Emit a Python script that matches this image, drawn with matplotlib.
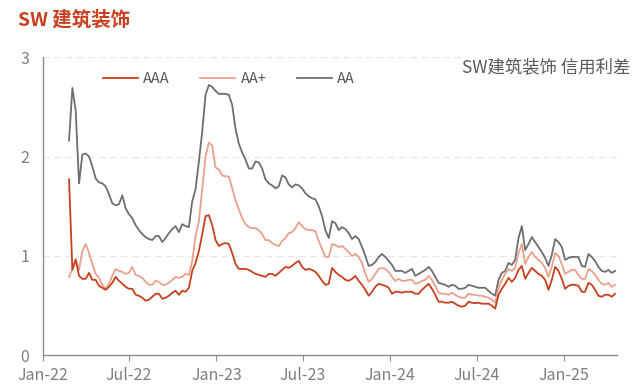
import matplotlib
matplotlib.use("Agg")
import matplotlib.pyplot as plt
import matplotlib.dates as mdates
import pandas as pd

plt.rcParams["font.family"] = ["Noto Sans CJK SC", "DejaVu Sans"]

# weekly credit spreads, SW construction & decoration
start_date = "2022-02-25"

aaa = [1.77, 0.86, 0.96, 0.80, 0.77, 0.77, 0.83, 0.76, 0.76, 0.70,
       0.68, 0.66, 0.69, 0.73, 0.79, 0.75, 0.72, 0.69, 0.67, 0.67,
       0.61, 0.60, 0.58, 0.55, 0.56, 0.59, 0.62, 0.62, 0.57, 0.58,
       0.60, 0.63, 0.65, 0.61, 0.65, 0.64, 0.68, 0.85, 0.93, 1.05,
       1.22, 1.40, 1.41, 1.31, 1.16, 1.10, 1.12, 1.13, 1.12, 1.03,
       0.92, 0.87, 0.87, 0.87, 0.86, 0.84, 0.82, 0.81, 0.80, 0.79,
       0.82, 0.82, 0.80, 0.83, 0.86, 0.89, 0.88, 0.90, 0.93, 0.95,
       0.89, 0.86, 0.87, 0.86, 0.84, 0.80, 0.75, 0.71, 0.72, 0.88,
       0.84, 0.81, 0.79, 0.76, 0.75, 0.77, 0.80, 0.75, 0.71, 0.66,
       0.60, 0.64, 0.69, 0.72, 0.71, 0.70, 0.68, 0.62, 0.64, 0.64,
       0.63, 0.64, 0.64, 0.64, 0.62, 0.62, 0.66, 0.69, 0.72, 0.67,
       0.61, 0.54, 0.54, 0.53, 0.53, 0.54, 0.52, 0.50, 0.49, 0.50,
       0.54, 0.53, 0.525, 0.53, 0.52, 0.52, 0.52, 0.50, 0.47, 0.61,
       0.67, 0.72, 0.78, 0.74, 0.78, 0.86, 0.90, 0.77, 0.83, 0.88,
       0.85, 0.82, 0.80, 0.76, 0.66, 0.76, 0.89, 0.85, 0.77, 0.67,
       0.70, 0.71, 0.71, 0.70, 0.64, 0.64, 0.73, 0.71, 0.66, 0.60,
       0.59, 0.61, 0.61, 0.59, 0.62]

aa_plus = [0.79, 0.87, 0.97, 0.86, 1.05, 1.12, 1.03, 0.92, 0.82, 0.78,
           0.71, 0.67, 0.72, 0.80, 0.87, 0.85, 0.84, 0.82, 0.83, 0.89,
           0.81, 0.80, 0.78, 0.74, 0.71, 0.71, 0.75, 0.74, 0.71, 0.71,
           0.73, 0.76, 0.79, 0.78, 0.79, 0.82, 0.81, 0.95, 1.20, 1.35,
           1.68, 2.00, 2.14, 2.11, 1.89, 1.87, 1.81, 1.80, 1.80, 1.68,
           1.56, 1.47, 1.38, 1.32, 1.29, 1.28, 1.28, 1.26, 1.22, 1.16,
           1.16, 1.13, 1.11, 1.10, 1.15, 1.18, 1.23, 1.24, 1.28, 1.34,
           1.30, 1.27, 1.26, 1.26, 1.25, 1.15, 1.07, 0.99, 0.99, 1.12,
           1.11, 1.09, 1.10, 1.07, 1.04, 1.00, 1.02, 0.99, 0.93, 0.82,
           0.74, 0.77, 0.82, 0.87, 0.88, 0.87, 0.84, 0.79, 0.75, 0.77,
           0.75, 0.75, 0.76, 0.76, 0.72, 0.73, 0.75, 0.76, 0.80, 0.76,
           0.70, 0.63, 0.62, 0.62, 0.61, 0.63, 0.61, 0.59, 0.58, 0.58,
           0.62, 0.61, 0.61, 0.60, 0.60, 0.59, 0.58, 0.56, 0.53, 0.68,
           0.76, 0.82, 0.87, 0.85, 0.88, 1.03, 1.12, 0.92, 0.99, 1.04,
           0.99, 0.96, 0.93, 0.88, 0.79, 0.89, 1.03, 1.00, 0.92, 0.82,
           0.84, 0.86, 0.86, 0.81, 0.77, 0.77, 0.87, 0.85, 0.81, 0.76,
           0.72, 0.71, 0.73, 0.69, 0.71]

aa = [2.16, 2.69, 2.46, 1.73, 2.02, 2.03, 2.00, 1.90, 1.78, 1.74,
      1.73, 1.70, 1.62, 1.53, 1.51, 1.52, 1.61, 1.48, 1.42, 1.38,
      1.31, 1.26, 1.22, 1.19, 1.17, 1.16, 1.20, 1.20, 1.14, 1.18,
      1.23, 1.27, 1.30, 1.24, 1.32, 1.30, 1.29, 1.55, 1.67, 1.95,
      2.25, 2.62, 2.72, 2.70, 2.66, 2.63, 2.63, 2.63, 2.62, 2.52,
      2.28, 2.13, 2.04, 1.97, 1.88, 1.88, 1.95, 1.94, 1.88, 1.77,
      1.73, 1.71, 1.68, 1.70, 1.81, 1.79, 1.72, 1.69, 1.72, 1.71,
      1.68, 1.63, 1.60, 1.58, 1.57, 1.50, 1.40, 1.26, 1.18, 1.35,
      1.33, 1.26, 1.29, 1.27, 1.23, 1.17, 1.20, 1.17, 1.09, 1.00,
      0.90, 0.91, 0.94, 0.99, 1.02, 0.99, 0.95, 0.91, 0.85, 0.85,
      0.85, 0.83, 0.85, 0.87, 0.80, 0.82, 0.84, 0.86, 0.89, 0.85,
      0.79, 0.73, 0.72, 0.71, 0.69, 0.71, 0.70, 0.67, 0.67, 0.68,
      0.71, 0.70, 0.69, 0.68, 0.68, 0.68, 0.65, 0.62, 0.60, 0.76,
      0.83, 0.85, 0.93, 0.91, 0.96, 1.18, 1.30, 1.06, 1.12, 1.19,
      1.14, 1.09, 1.04, 0.98, 0.90, 1.01, 1.17, 1.14, 1.09, 0.96,
      0.98, 0.99, 0.99, 0.99, 0.90, 0.89, 1.02, 0.99, 0.95, 0.89,
      0.85, 0.84, 0.86, 0.83, 0.85]

dates = pd.date_range(start_date, periods=len(aa), freq="7D")

red = "#C8401E"
salmon = "#EBA08B"
grey = "#6E6E6E"
text_grey = "#595959"
tick_grey = "#7F7F7F"

fig = plt.figure(figsize=(6.4, 3.91), dpi=100)
ax = fig.add_axes([0.067, 0.091, 0.897, 0.763])

ax.plot(dates, aaa, color=red, linewidth=1.3, label="AAA", zorder=3)
ax.plot(dates, aa_plus, color=salmon, linewidth=1.3, label="AA+", zorder=2)
ax.plot(dates, aa, color=grey, linewidth=1.3, label="AA", zorder=1)

ax.set_ylim(0, 3)
ax.set_yticks([0, 1, 2, 3])
ax.set_xlim(pd.Timestamp("2022-01-01"), pd.Timestamp("2025-04-22"))
ax.xaxis.set_major_locator(mdates.MonthLocator(bymonth=[1, 7]))
ax.xaxis.set_major_formatter(mdates.DateFormatter("%b-%y"))

ax.grid(axis="y", color="#E6E6E6", linestyle=(0, (6, 4)), linewidth=0.8)
ax.set_axisbelow(True)
for side in ["top", "right"]:
    ax.spines[side].set_visible(False)
for side in ["left", "bottom"]:
    ax.spines[side].set_color("#8C8C8C")
    ax.spines[side].set_linewidth(1.0)
ax.tick_params(axis="x", direction="out", length=4, color="#8C8C8C",
               labelsize=11.5, labelcolor=tick_grey, pad=4)
ax.tick_params(axis="y", length=0, labelsize=11.5, labelcolor=tick_grey, pad=10)

leg = ax.legend(loc="upper left", bbox_to_anchor=(0.082, 0.995), ncol=3,
                frameon=False, fontsize=10.5, handlelength=2.4,
                columnspacing=2.1, handletextpad=0.35)
for t in leg.get_texts():
    t.set_color(text_grey)

fig.text(0.985, 0.828, "SW建筑装饰 信用利差", ha="right", va="center",
         fontsize=12.5, color=text_grey,
         bbox=dict(facecolor="white", edgecolor="none", pad=1))
fig.text(0.028, 0.948, "SW 建筑装饰", ha="left", va="center",
         fontsize=14, color=red, fontweight="bold")

fig.savefig("out.png", dpi=100)
